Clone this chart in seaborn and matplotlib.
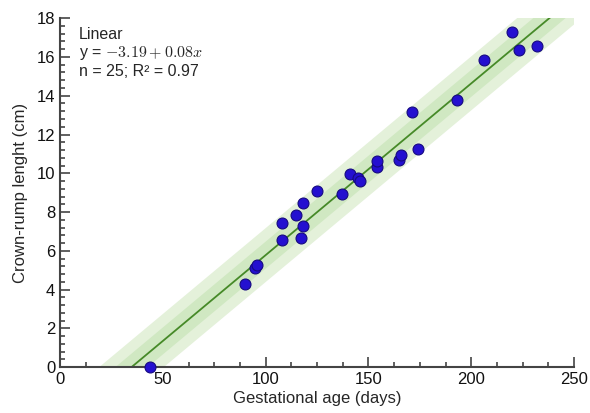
import numpy as np
import pandas as pd
import seaborn as sns
import matplotlib.pyplot as plt
from matplotlib.ticker import MultipleLocator

# values
age_days = [44, 90, 95, 96, 108, 108, 115, 117, 118, 118, 125, 137, 141, 145,
            146, 154, 154, 165, 166, 171, 174, 193, 206, 220, 223, 232]
crl_cm = [0.0, 4.28, 5.1, 5.26, 6.55, 7.45, 7.85, 6.65, 7.3, 8.45, 9.1, 8.95,
          9.95, 9.75, 9.6, 10.3, 10.65, 10.7, 10.95, 13.15, 11.25, 13.8, 15.85,
          17.3, 16.35, 16.55]
fit_label = ['Linear', 'y = $-3.19 + 0.08x$', 'n = 25; R² = 0.97']

df = pd.DataFrame({'age': age_days, 'crl': crl_cm})

sns.set_style('ticks')
plt.rcParams['font.family'] = ['Liberation Sans', 'DejaVu Sans']
plt.rcParams['mathtext.fontset'] = 'cm'

fig = plt.figure(figsize=(5.9, 4.13), dpi=100)
ax = fig.add_axes([0.1017, 0.111, 0.8713, 0.845])

# fit and bands
b, a = np.polyfit(df['age'], df['crl'], 1)
resid = df['crl'] - (a + b * df['age'])
s = resid.std(ddof=2)
xs = np.linspace(0, 251, 200)
ys = a + b * xs
ax.fill_between(xs, ys - 2 * s, ys + 2 * s, color='#e4f1da', lw=0, zorder=1)
ax.fill_between(xs, ys - s, ys + s, color='#d0e8c2', lw=0, zorder=1)
sns.lineplot(x=xs, y=ys, color='#468a28', lw=1.3, ax=ax, zorder=2)

sns.scatterplot(data=df, x='age', y='crl', color='#2410d0', edgecolor='#160a80',
                linewidth=0.8, s=62, ax=ax, zorder=3, clip_on=False)

ax.set_xlim(0, 250)
ax.set_ylim(0, 18)
ax.xaxis.set_major_locator(MultipleLocator(50))
ax.xaxis.set_minor_locator(MultipleLocator(12.5))
ax.yaxis.set_major_locator(MultipleLocator(2))
ax.yaxis.set_minor_locator(MultipleLocator(0.4))
ax.tick_params(which='both', direction='in', colors='#444444', labelcolor='#111111',
               labelsize=12, width=1.2)
ax.tick_params(which='major', length=7)
ax.tick_params(which='minor', length=3.5)
for side in ['left', 'bottom']:
    ax.spines[side].set_linewidth(1.5)
    ax.spines[side].set_color('#444444')
sns.despine(ax=ax)

ax.set_xlabel('Gestational age (days)', fontsize=12, labelpad=3)
ax.set_ylabel('Crown-rump lenght (cm)', fontsize=12, labelpad=6)

ax.text(0.036, 0.975, '\n'.join(fit_label), transform=ax.transAxes,
        va='top', ha='left', fontsize=11.5, linespacing=1.15)

fig.savefig('out.png', dpi=100)
